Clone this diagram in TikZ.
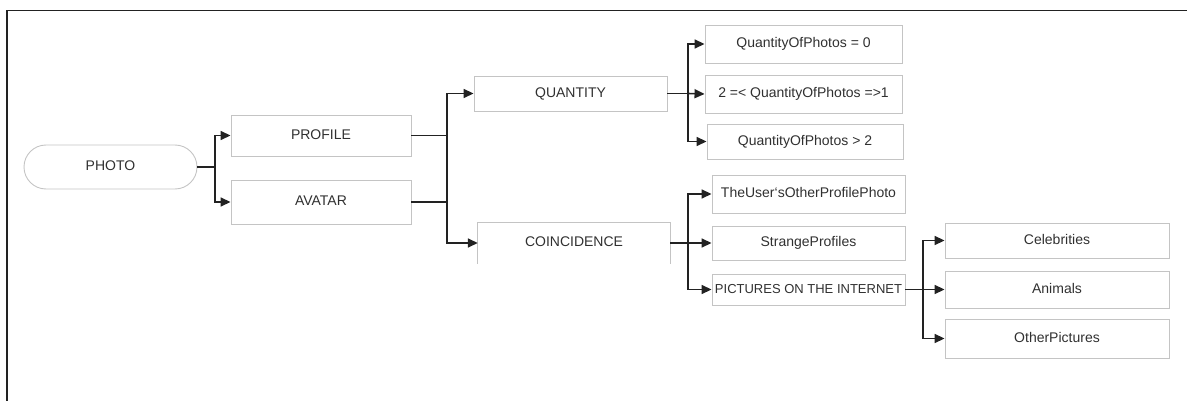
\documentclass[tikz,border=0pt]{standalone}
\usepackage{fontspec}
\setmainfont{Liberation Sans}
\usetikzlibrary{arrows.meta}
\definecolor{boxline}{HTML}{C4C4C4}
\definecolor{ink}{HTML}{222222}
\definecolor{txt}{HTML}{303030}
\tikzset{
  label text/.style={text=txt, font=\fontsize{14}{16}\selectfont,
    text height=0.72em, text depth=0pt},
  box/.style={draw=boxline, line width=0.9pt, rectangle, inner sep=0pt, label text},
  openbox/.style={rectangle, inner sep=0pt, label text},
  stadium/.style={box, rounded corners=22pt},
  link/.style={draw=ink, line width=1.6pt},
  arr/.style={link, -{Triangle[length=10pt,width=9pt]}}
}
\begin{document}
\begin{tikzpicture}[x=1pt,y=-1pt]
\useasboundingbox (0,0) rectangle (1187,401);
% frame edges
\draw[ink, line width=1.3pt] (7,401) -- (7,10.5) -- (1187,10.5);

% nodes
\node[stadium, minimum width=173, minimum height=44] (photo) at (110.5,167) {PHOTO};
\node[box, minimum width=180, minimum height=41] (profile) at (321,135.5) {PROFILE};
\node[box, minimum width=180, minimum height=44] (avatar) at (321,202) {AVATAR};
\node[box, minimum width=193, minimum height=35] (quantity) at (570.5,93.5) {QUANTITY};
\node[openbox, minimum width=192, minimum height=41] (coincidence) at (574,243) {COINCIDENCE};
\draw[boxline, line width=0.9pt] (coincidence.south west) -- (coincidence.north west)
  -- (coincidence.north east) -- (coincidence.south east);
\node[box, minimum width=197, minimum height=38] (q0) at (803.5,44) {QuantityOfPhotos = 0};
\node[box, minimum width=197, minimum height=38] (q1) at (803.5,94) {2 =< QuantityOfPhotos =>1};
\node[box, minimum width=196, minimum height=35] (q2) at (805,141.5) {QuantityOfPhotos > 2};
\node[box, minimum width=193, minimum height=38] (user) at (808.5,194) {TheUser`sOtherProfilePhoto};
\node[box, minimum width=193, minimum height=34] (strange) at (808.5,243) {StrangeProfiles};
\node[box, minimum width=193, minimum height=31] (internet) at (808.5,289.5) {\fontsize{13}{15}\selectfont PICTURES ON THE INTERNET};
\node[box, minimum width=224, minimum height=35] (celeb) at (1057,240.5) {Celebrities};
\node[box, minimum width=224, minimum height=37] (animals) at (1057,289.5) {Animals};
\node[box, minimum width=224, minimum height=39] (other) at (1057,338.5) {OtherPictures};

% junction points
\coordinate (j1) at (215,167);
\coordinate (j2) at (447,135.5);
\coordinate (j3) at (447,202);
\coordinate (j4) at (688,93.5);
\coordinate (j5) at (688,243);
\coordinate (j6) at (923,289.5);

% connectors
\draw[link] (photo.east) -- (j1);
\draw[arr] (j1) |- (profile.west);
\draw[arr] (j1) |- (avatar.west);

\draw[link] (profile.east) -- (j2);
\draw[link] (avatar.east) -- (j3);
\draw[link] (j2) -- (j3);
\draw[arr] (j2) |- (quantity.west);
\draw[arr] (j3) |- (coincidence.west);

\draw[link] (quantity.east) -- (j4);
\draw[arr] (j4) |- (q0.west);
\draw[arr] (j4) -- (q1.west);
\draw[arr] (j4) |- (q2.west);

\draw[link] (coincidence.east) -- (j5);
\draw[arr] (j5) |- (user.west);
\draw[arr] (j5) -- (strange.west);
\draw[arr] (j5) |- (internet.west);

\draw[link] (internet.east) -- (j6);
\draw[arr] (j6) |- (celeb.west);
\draw[arr] (j6) -- (animals.west);
\draw[arr] (j6) |- (other.west);
\end{tikzpicture}
\end{document}
